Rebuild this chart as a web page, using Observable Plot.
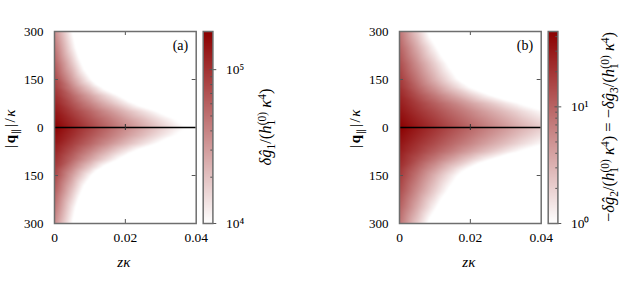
<!DOCTYPE html>
<html><head><meta charset="utf-8">
<script src="https://cdn.jsdelivr.net/npm/d3@7"></script>
<script src="https://cdn.jsdelivr.net/npm/@observablehq/plot@0.6"></script>
<style>
body{margin:0;background:#fff;}
#fig{position:relative;width:636px;height:281px;overflow:hidden;background:#fff;font-family:"Liberation Serif";}
.panel{position:absolute;top:0;width:291px;height:281px;}
.panel svg{position:absolute;top:0;left:0;}
</style></head><body><div id="fig"></div>
<script>
// z*kappa sample positions and |q_par|/kappa sample positions
const zValues = [0, 0.005, 0.01, 0.015, 0.02, 0.025, 0.03, 0.035, 0.04];
const qValues = [0, 25, 50, 75, 100, 125, 150, 200, 250, 300];
// panel (a): log10 of delta g1 /(h1^(0) kappa^4), one row per q value
const logG1 = [
  [5.25, 5.08, 4.92, 4.75, 4.58, 4.42, 4.25, 4.08, 3.92],
  [5.19, 5.02, 4.84, 4.67, 4.49, 4.32, 4.14, 3.97, 3.79],
  [5.14, 4.94, 4.75, 4.55, 4.35, 4.16, 3.96, 3.76, 3.57],
  [5.08, 4.84, 4.60, 4.36, 4.12, 3.88, 3.64, 3.40, 3.16],
  [5.02, 4.74, 4.45, 4.17, 3.89, 3.60, 3.32, 3.04, 2.75],
  [4.96, 4.60, 4.25, 3.89, 3.54, 3.18, 2.83, 2.47, 2.12],
  [4.91, 4.47, 4.04, 3.60, 3.17, 2.73, 2.30, 1.86, 1.43],
  [4.79, 4.28, 3.76, 3.25, 2.74, 2.22, 1.71, 1.20, 0.69],
  [4.68, 4.11, 3.55, 2.99, 2.43, 1.86, 1.30, 0.74, 0.18],
  [4.56, 4.00, 3.44, 2.88, 2.32, 1.76, 1.20, 0.64, 0.08]
];
// panel (b): log10 of -delta g2 /(h1^(0) kappa^4)
const logG2 = [
  [1.65, 1.48, 1.32, 1.15, 0.99, 0.82, 0.66, 0.49, 0.33],
  [1.58, 1.41, 1.24, 1.06, 0.89, 0.72, 0.55, 0.37, 0.20],
  [1.52, 1.33, 1.15, 0.96, 0.78, 0.59, 0.41, 0.22, 0.04],
  [1.46, 1.25, 1.03, 0.82, 0.60, 0.39, 0.17, -0.04, -0.26],
  [1.40, 1.13, 0.86, 0.59, 0.32, 0.05, -0.21, -0.48, -0.75],
  [1.33, 1.00, 0.67, 0.33, 0.00, -0.33, -0.67, -1.00, -1.33],
  [1.27, 0.89, 0.50, 0.12, -0.27, -0.66, -1.04, -1.43, -1.81],
  [1.15, 0.72, 0.30, -0.13, -0.55, -0.98, -1.41, -1.83, -2.26],
  [1.02, 0.54, 0.05, -0.44, -0.92, -1.41, -1.89, -2.38, -2.86],
  [0.90, 0.34, -0.23, -0.79, -1.35, -1.91, -2.48, -3.04, -3.60]
];
const xTicks = [0, 0.02, 0.04];
const yTicks = [-300, -150, 0, 150, 300];
const cbRangeA = [4, 5.248];         // log10 of colour range 1e4 .. 1.77e5
const cbMajorA = [4, 5];
const cbMajorLabelsA = ["10⁴", "10⁵"];
const cbRangeB = [0, 1.646];         // log10 of colour range 1 .. 44
const cbMajorB = [0, 1];
const cbMajorLabelsB = ["10⁰", "10¹"];
const minorMult = [2, 3, 4, 5, 6, 7, 8, 9];

const FONT = "Liberation Serif";

function mathText(sel, parts, subSize) {
  let base = 0;
  parts.forEach(p => {
    const s = sel.append("tspan").text(p.t);
    const target = p.sub ? 3.5 : p.sup ? -5.5 : 0;
    if (target - base !== 0) s.attr("dy", target - base);
    base = target;
    if (p.sub || p.sup) s.style("font-size", subSize + "px");
    if (p.i) s.style("font-style", "italic");
    if (p.b) s.style("font-weight", "bold");
    if (p.dx) s.attr("dx", p.dx);
  });
}

function forceFont(svgNode) {
  const s = d3.select(svgNode);
  s.attr("font-family", FONT).style("font-family", FONT);
  s.selectAll("g").attr("font-family", FONT);
  s.selectAll("text").style("font-family", FONT);
}

function panel(left, rows, cbRange, cbMajor, cbLabels, tag, cbParts, cbLabelX) {
  const div = document.createElement("div");
  div.className = "panel";
  div.style.left = left + "px";
  document.getElementById("fig").appendChild(div);

  const table = [];
  qValues.forEach((q, i) => zValues.forEach((z, j) => {
    table.push({z, q, v: rows[i][j]});
    if (q > 0) table.push({z, q: -q, v: rows[i][j]});
  }));

  const W = 291, H = 281, fL = 54, fR = 195.7, fT = 31, fB = 223;
  const color = {type: "linear", domain: cbRange, range: ["#ffffff", "#8b0000"], interpolate: "rgb", clamp: true};
  const tx = 0.04 * 4 / (fR - fL);   // 4px tick in data units
  const ty = 600 * 4 / (fB - fT);
  const tickStyle = {stroke: "#555", strokeWidth: 1};

  const main = Plot.plot({
    width: W, height: H,
    marginLeft: fL, marginRight: W - fR, marginTop: fT, marginBottom: H - fB,
    style: {background: "transparent", color: "#000", overflow: "visible"},
    x: {domain: [0, 0.04]},
    y: {domain: [-300, 300]},
    color,
    marks: [
      Plot.raster(table, {x: "z", y: "q", fill: "v", interpolate: "barycentric", x1: 0, x2: 0.04, y1: -300, y2: 300}),
      Plot.ruleY([0], {stroke: "#000", strokeWidth: 1.5}),
      Plot.ruleX([0.02], {y1: 300, y2: 300 - ty, ...tickStyle}),
      Plot.ruleX([0.02], {y1: -300, y2: -300 + ty, ...tickStyle}),
      Plot.ruleX([0.02], {y1: -ty * 0.75, y2: ty * 0.75, stroke: "#333", strokeWidth: 1}),
      Plot.ruleY([150, -150], {x1: 0, x2: tx, ...tickStyle}),
      Plot.ruleY([150, -150], {x1: 0.04 - tx, x2: 0.04, ...tickStyle}),
      Plot.frame({stroke: "#6e6e6e", strokeWidth: 1.5}),
      Plot.axisX(xTicks, {tickSize: 0, tickPadding: 9, fontSize: 13.5, label: null, tickFormat: d => String(d)}),
      Plot.axisY(yTicks, {tickSize: 0, tickPadding: 11, fontSize: 13, label: null, tickFormat: d => String(Math.abs(d))}),
      Plot.text([tag], {frameAnchor: "top-right", dx: -8, dy: 9, fontSize: 14})
    ]
  });
  div.appendChild(main);
  const ms = d3.select(main);
  const yl = ms.append("text").attr("transform", "translate(15,128) rotate(-90)")
    .attr("text-anchor", "middle").style("font-size", "15px").attr("letter-spacing", 1.5).attr("fill", "#000");
  mathText(yl, [{t: "|"}, {t: "q", b: true}, {t: "∥", sub: true}, {t: "|/"}, {t: "κ", i: true}], 10);
  const xl = ms.append("text").attr("x", (fL + fR) / 2 - 1).attr("y", 267)
    .attr("text-anchor", "middle").style("font-size", "15px").style("font-style", "italic").attr("fill", "#000");
  xl.text("zκ");
  forceFont(main);

  // colour bar
  const cbL = 202.7, cbR = 212.4;
  const minor = [];
  for (let d = Math.floor(cbRange[0]); d <= cbRange[1]; d++) minorMult.forEach(m => {
    const v = d + Math.log10(m);
    if (v > cbRange[0] && v < cbRange[1]) minor.push(v);
  });
  const cb = Plot.plot({
    width: W, height: H,
    marginLeft: cbL, marginRight: W - cbR, marginTop: fT, marginBottom: H - fB,
    style: {background: "transparent", color: "#000", overflow: "visible"},
    x: {domain: [0, 1], axis: null},
    y: {domain: cbRange, axis: null},
    color,
    marks: [
      Plot.raster({x1: 0, x2: 1, y1: cbRange[0], y2: cbRange[1], fill: (x, y) => y}),
      Plot.ruleY(minor, {x1: 0.78, x2: 1, ...tickStyle}),
      Plot.ruleY(cbMajor, {x1: 0.7, x2: 1.4, ...tickStyle}),
      Plot.frame({stroke: "#6e6e6e", strokeWidth: 1.5}),
      Plot.axisY(cbMajor, {anchor: "right", tickSize: 0, tickPadding: 13, fontSize: 13.5, label: null,
        tickFormat: d => cbLabels[cbMajor.indexOf(d)]})
    ]
  });
  div.appendChild(cb);
  const cl = d3.select(cb).append("text").attr("transform", `translate(${cbLabelX},127) rotate(-90)`)
    .attr("text-anchor", "middle").style("font-size", "16.5px").attr("fill", "#000");
  mathText(cl, cbParts, 11.5);
  forceFont(cb);
}

const hk = [{t: "/("}, {t: "h", i: true}, {t: "1", sub: true}, {t: "(0)", sup: true, dx: -5.5},
  {t: " κ", i: true}, {t: "4", sup: true}, {t: ")"}];
const partsA = [{t: "δ", i: true}, {t: "ĝ", i: true}, {t: "1", sub: true}, ...hk];
const partsB = [{t: "−"}, {t: "δ", i: true}, {t: "ĝ", i: true}, {t: "2", sub: true}, ...hk,
  {t: " = −"}, {t: "δ", i: true}, {t: "ĝ", i: true}, {t: "3", sub: true}, ...hk];

panel(0, logG1, cbRangeA, cbMajorA, cbMajorLabelsA, "(a)", partsA, 271);
panel(345, logG2, cbRangeB, cbMajorB, cbMajorLabelsB, "(b)", partsB, 269);
</script></body></html>
